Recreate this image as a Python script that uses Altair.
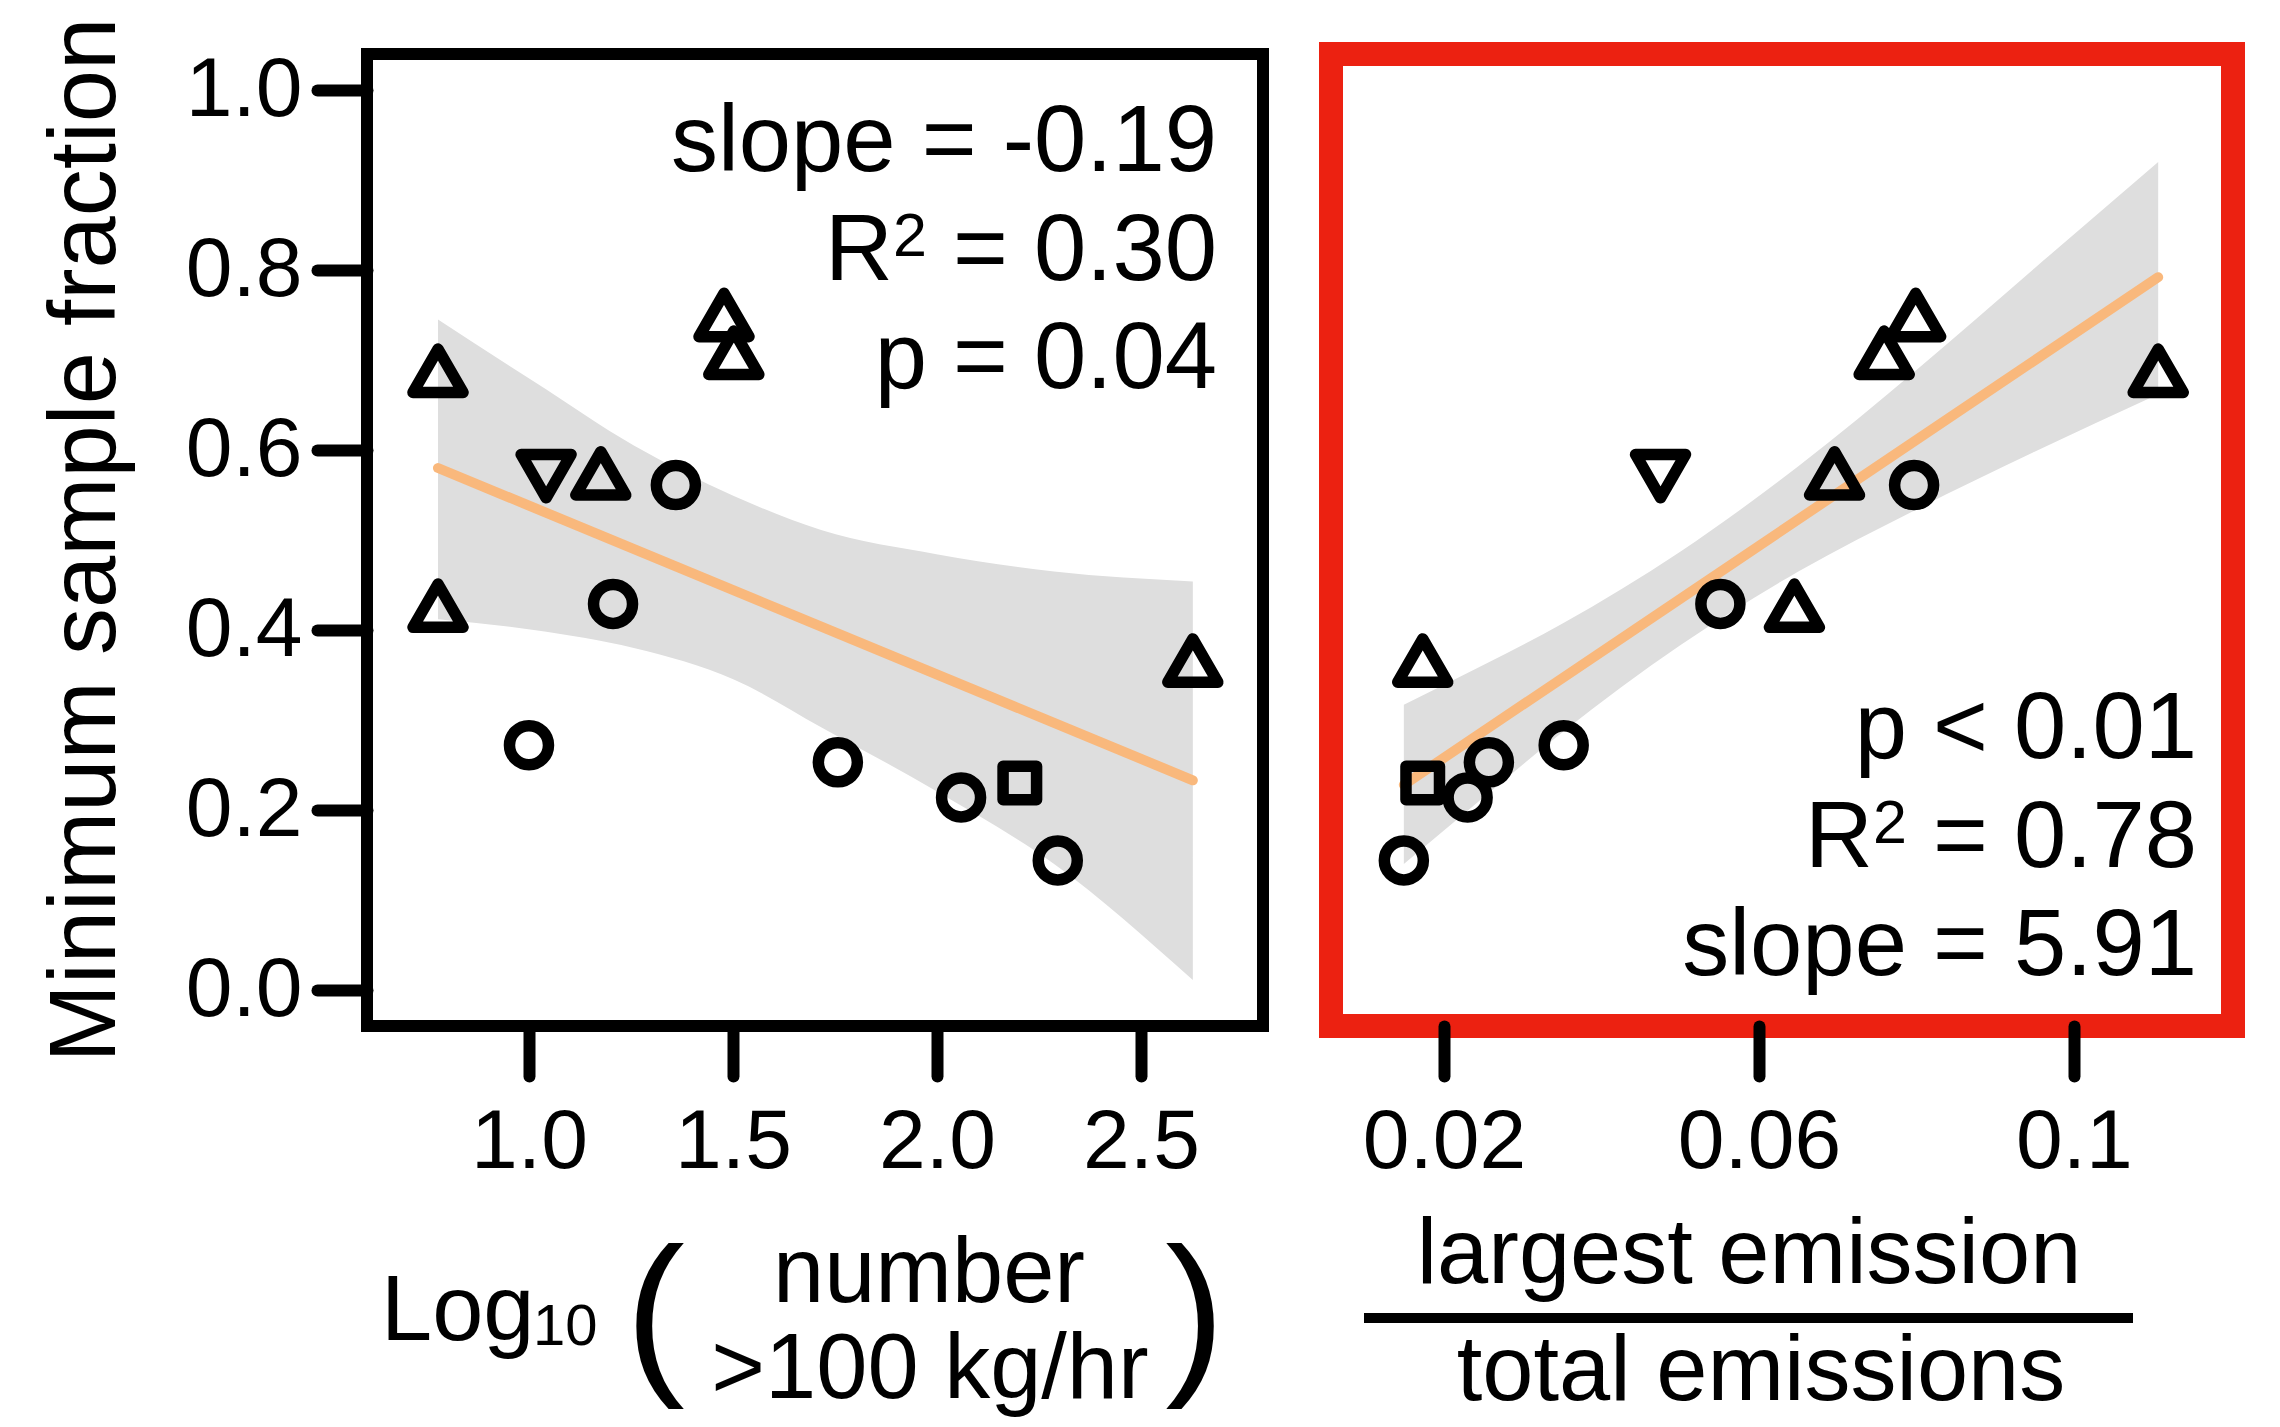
import altair as alt
import pandas as pd

# ---------------- data ----------------
shape_kind = ["up", "up", "circle", "down", "up", "circle", "circle",
              "up", "up", "circle", "circle", "square", "circle", "up"]
min_sample_fraction = [0.680, 0.419, 0.272, 0.579, 0.566, 0.561, 0.429,
                       0.742, 0.700, 0.253, 0.214, 0.230, 0.144, 0.358]
log_n_large = [0.777, 0.777, 1.000, 1.042, 1.176, 1.360, 1.206,
               1.478, 1.502, 1.757, 2.059, 2.203, 2.296, 2.627]
largest_share = [0.1107, 0.0645, 0.0352, 0.0475, 0.0696, 0.0797, 0.0551,
                 0.0799, 0.0759, 0.0257, 0.0230, 0.0173, 0.0149, 0.0173]

left_band_x = [0.777, 1.012, 1.257, 1.502, 1.716, 2.002, 2.287, 2.627]
left_band_upper = [0.745, 0.676, 0.605, 0.549, 0.511, 0.484, 0.465, 0.454]
left_band_lower = [0.412, 0.400, 0.380, 0.345, 0.292, 0.220, 0.140, 0.011]
left_fit_x = [0.777, 2.627]
left_fit_y = [0.580, 0.233]

right_band_x = [0.0149, 0.0250, 0.0350, 0.0500, 0.0650, 0.0800, 0.0950, 0.1107]
right_band_upper = [0.317, 0.361, 0.407, 0.487, 0.582, 0.689, 0.802, 0.920]
right_band_lower = [0.140, 0.214, 0.286, 0.383, 0.465, 0.534, 0.598, 0.662]
right_fit_x = [0.0149, 0.1107]
right_fit_y = [0.228, 0.792]

y_ticks = [0.0, 0.2, 0.4, 0.6, 0.8, 1.0]
left_x_ticks = [1.0, 1.5, 2.0, 2.5]
right_x_ticks = [0.02, 0.06, 0.1]

left_stats = ["slope = -0.19", " = 0.30", "p = 0.04"]
right_stats = ["p < 0.01", " = 0.78", "slope = 5.91"]

# ---------------- tables ----------------
points = pd.DataFrame({"kind": shape_kind, "y": min_sample_fraction,
                       "xl": log_n_large, "xr": largest_share})
left_band = pd.DataFrame({"x": left_band_x, "upper": left_band_upper, "lower": left_band_lower})
right_band = pd.DataFrame({"x": right_band_x, "upper": right_band_upper, "lower": right_band_lower})
left_fit = pd.DataFrame({"x": left_fit_x, "y": left_fit_y})
right_fit = pd.DataFrame({"x": right_fit_x, "y": right_fit_y})
one_row = pd.DataFrame({"k": [0]})

FONT = "Liberation Sans"
W_L, W_R, H = 896, 902, 972
BAND = "#dedede"
ORANGE = "#f9b87c"
RED = "#ec2111"
FS = 94   # statistics text
FT = 92   # axis titles

Y_SCALE = alt.Scale(domain=[-0.04, 1.04], nice=False, zero=False)
XL_SCALE = alt.Scale(domain=[0.603, 2.799], nice=False, zero=False)
XR_SCALE = alt.Scale(domain=[0.00565, 0.1202], nice=False, zero=False)

# symbol shapes: size 2500 -> 25 px per path unit
SHAPES = alt.Scale(
    domain=["circle", "up", "down", "square"],
    range=[
        "M-0.78,0A0.78,0.78,0,1,0,0.78,0A0.78,0.78,0,1,0,-0.78,0Z",
        "M0,-1.155L1,0.577L-1,0.577Z",
        "M0,1.155L1,-0.577L-1,-0.577Z",
        "M-0.67,-0.67L0.67,-0.67L0.67,0.67L-0.67,0.67Z",
    ],
)


def txt(s, x, y, size=FS, align="right", angle=None):
    kw = dict(text=s, fontSize=size, align=align, baseline="alphabetic",
              font=FONT, color="black")
    if angle is not None:
        kw["angle"] = angle
    return alt.Chart(one_row).mark_text(**kw).encode(x=alt.value(x), y=alt.value(y))


def panel(xfield, xscale, xaxis, band_df, fit_df, yaxis):
    band = alt.Chart(band_df).mark_area(color=BAND, opacity=1, interpolate="monotone").encode(
        x=alt.X("x:Q", scale=xscale, axis=xaxis),
        y=alt.Y("upper:Q", scale=Y_SCALE, axis=yaxis),
        y2="lower:Q",
    )
    fit = alt.Chart(fit_df).mark_line(color=ORANGE, strokeWidth=10, strokeCap="round").encode(
        x=alt.X("x:Q", scale=xscale, axis=xaxis),
        y=alt.Y("y:Q", scale=Y_SCALE, axis=yaxis),
    )
    pts = alt.Chart(points).mark_point(
        filled=False, color="black", strokeWidth=11.5, strokeJoin="round",
        size=2500, opacity=1,
    ).encode(
        x=alt.X(f"{xfield}:Q", scale=xscale, axis=xaxis),
        y=alt.Y("y:Q", scale=Y_SCALE, axis=yaxis),
        shape=alt.Shape("kind:N", scale=SHAPES, legend=None),
    )
    return [band, fit, pts]


left_axis = alt.Axis(values=left_x_ticks, format=".1f", title=None)
right_axis = alt.Axis(values=right_x_ticks, format=".2~f", title=None)
y_axis = alt.Axis(values=y_ticks, format=".1f", title=None)

left_layers = panel("xl", XL_SCALE, left_axis, left_band, left_fit, y_axis)
left_layers += [
    txt(left_stats[0], 850, 117),
    txt(left_stats[1], 850, 226),
    txt("2", 560, 202, size=61),
    txt("R", 526, 226),
    txt(left_stats[2], 850, 334),
    # y title
    txt("Minimum sample fraction", -252, 486, size=94, align="center", angle=270),
    # x title
    txt("Log", 14, 1286, size=FT, align="left"),
    txt("10", 166, 1291, size=58, align="left"),
    txt("(", 288, 1318, size=179, align="center"),
    txt(")", 828, 1318, size=179, align="center"),
    txt("number", 562, 1248, size=FT, align="center"),
    txt(">100 kg/hr", 563, 1344, size=FT, align="center"),
]

right_layers = panel("xr", XR_SCALE, right_axis, right_band, right_fit, None)
right_layers += [
    txt(right_stats[0], 866, 704),
    txt(right_stats[1], 866, 813),
    txt("2", 576, 789, size=61),
    txt("R", 542, 813),
    txt(right_stats[2], 866, 921),
    txt("largest emission", 418, 1229, size=FT, align="center"),
    alt.Chart(one_row).mark_rule(color="black", strokeWidth=10).encode(
        x=alt.value(33), x2=alt.value(802), y=alt.value(1264)
    ),
    txt("total emissions", 430, 1346, size=FT, align="center"),
]

left = alt.layer(*left_layers).properties(
    width=W_L, height=H,
    view=alt.ViewBackground(stroke="black", strokeWidth=12, fill="white"),
)
right = alt.layer(*right_layers).properties(
    width=W_R, height=H,
    view=alt.ViewBackground(stroke=RED, strokeWidth=24, fill="white"),
)

chart = (
    alt.hconcat(left, right, spacing=50)
    .properties(padding={"left": 25, "top": 3, "right": 5, "bottom": 5}, background="white")
    .configure_axis(
        domain=False, grid=False, ticks=True, tickColor="black", tickWidth=12,
        tickSize=50, tickCap="round", labelFont=FONT, labelFontSize=84,
        labelColor="black", labelFlush=False, labelOverlap=False, labelBound=False,
    )
    .configure_axisX(labelPadding=25)
    .configure_axisY(labelPadding=15)
)

chart.save("out.html", embed_options={"renderer": "svg", "actions": False})
